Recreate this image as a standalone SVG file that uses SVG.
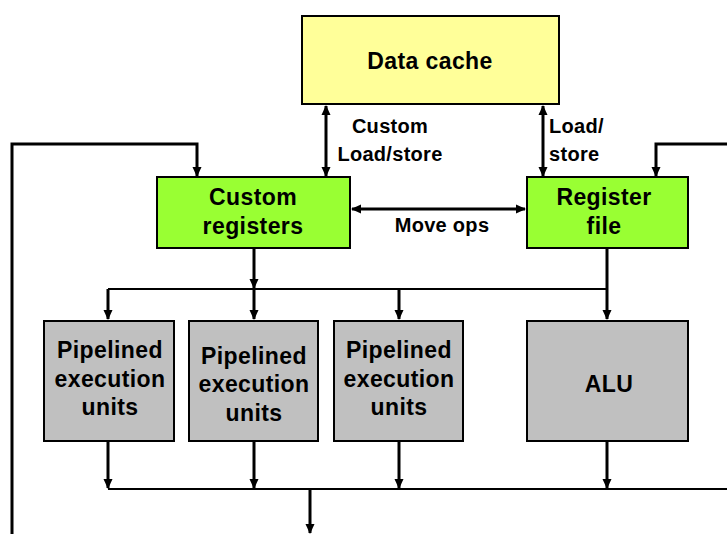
<svg xmlns="http://www.w3.org/2000/svg" width="727" height="534" viewBox="0 0 727 534">
<defs>
<style>
.box{stroke:#000;stroke-width:2}
.cache{fill:#FFFF99}
.reg{fill:#99FF33}
.unit{fill:#C0C0C0}
.big{font-family:"Liberation Sans",Arial,sans-serif;font-weight:bold;font-size:23px;letter-spacing:0.4px;text-anchor:middle;fill:#000}
.small{font-family:"Liberation Sans",Arial,sans-serif;font-weight:bold;font-size:20px;letter-spacing:0.3px;fill:#000}
.w{fill:none;stroke:#000;stroke-width:3}
.bus{fill:none;stroke:#000;stroke-width:2}
</style>
<marker id="ah" markerUnits="userSpaceOnUse" markerWidth="10" markerHeight="10" viewBox="0 0 10 10" refX="9" refY="5" orient="auto-start-reverse">
<path d="M0,0.5 L10,5 L0,9.5 z" fill="#000"/>
</marker>
</defs>
<rect width="727" height="534" fill="#fff"/>
<g id="connectors">
<line class="w" x1="326" y1="106" x2="326" y2="176" marker-start="url(#ah)" marker-end="url(#ah)"/>
<line class="w" x1="543" y1="106" x2="543" y2="176" marker-start="url(#ah)" marker-end="url(#ah)"/>
<line class="w" x1="352" y1="209" x2="525" y2="209" marker-start="url(#ah)" marker-end="url(#ah)"/>
<polyline class="w" points="12,534 12,144 197,144 197,176" marker-end="url(#ah)"/>
<polyline class="w" points="727,144 656,144 656,176" marker-end="url(#ah)"/>
<line class="w" x1="254" y1="249" x2="254" y2="288" marker-end="url(#ah)"/>
<polyline class="bus" points="108,289 607,289"/>
<line class="w" x1="607" y1="249" x2="607" y2="319" marker-end="url(#ah)"/>
<line class="w" x1="108" y1="289" x2="108" y2="319" marker-end="url(#ah)"/>
<line class="w" x1="254" y1="289" x2="254" y2="319" marker-end="url(#ah)"/>
<line class="w" x1="399" y1="289" x2="399" y2="319" marker-end="url(#ah)"/>
<line class="w" x1="108" y1="442" x2="108" y2="488" marker-end="url(#ah)"/>
<line class="w" x1="254" y1="442" x2="254" y2="488" marker-end="url(#ah)"/>
<line class="w" x1="399" y1="442" x2="399" y2="488" marker-end="url(#ah)"/>
<line class="w" x1="607" y1="442" x2="607" y2="488" marker-end="url(#ah)"/>
<polyline class="bus" points="108,489 727,489"/>
<line class="w" x1="310" y1="489" x2="310" y2="533" marker-end="url(#ah)"/>
<text class="small" x="390" y="133" text-anchor="middle">Custom</text>
<text class="small" x="390" y="161" text-anchor="middle">Load/store</text>
<text class="small" x="549" y="133">Load/</text>
<text class="small" x="549" y="161">store</text>
<text class="small" x="442" y="232" text-anchor="middle">Move ops</text>
</g>
<g id="data-cache">
<rect class="box cache" x="302" y="16" width="257" height="88"/>
<text class="big" x="430" y="69">Data cache</text>
</g>
<g id="custom-registers">
<rect class="box reg" x="157" y="177" width="193" height="71"/>
<text class="big" x="253" y="205">Custom</text>
<text class="big" x="253" y="234">registers</text>
</g>
<g id="register-file">
<rect class="box reg" x="527" y="177" width="161" height="71"/>
<text class="big" x="604" y="205">Register</text>
<text class="big" x="604" y="234">file</text>
</g>
<g id="peu1">
<rect class="box unit" x="44" y="321" width="130" height="120"/>
<text class="big" x="110" y="358">Pipelined</text>
<text class="big" x="110" y="387">execution</text>
<text class="big" x="110" y="415">units</text>
</g>
<g id="peu2">
<rect class="box unit" x="189" y="321" width="129" height="120"/>
<text class="big" x="254" y="364">Pipelined</text>
<text class="big" x="254" y="392">execution</text>
<text class="big" x="254" y="421">units</text>
</g>
<g id="peu3">
<rect class="box unit" x="334" y="321" width="129" height="120"/>
<text class="big" x="399" y="358">Pipelined</text>
<text class="big" x="399" y="387">execution</text>
<text class="big" x="399" y="415">units</text>
</g>
<g id="alu">
<rect class="box unit" x="527" y="321" width="161" height="120"/>
<text class="big" x="609" y="392">ALU</text>
</g>
</svg>
